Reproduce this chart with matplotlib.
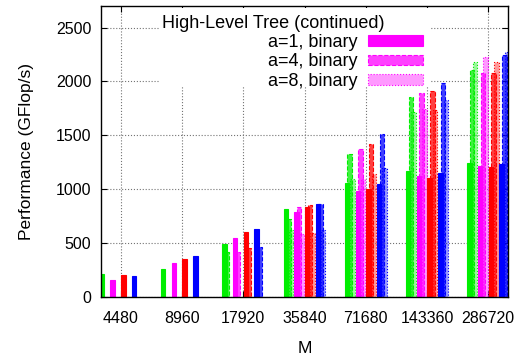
import numpy as np
import matplotlib
matplotlib.use("Agg")
import matplotlib.pyplot as plt
from matplotlib.patches import Patch, Rectangle

plt.rcParams['font.family'] = ['Liberation Sans', 'DejaVu Sans']
plt.rcParams['font.size'] = 11.5

nan = np.nan
sizes = ["4480", "8960", "17920", "35840", "71680", "143360", "286720"]
a_labels = ["a=1, binary", "a=4, binary", "a=8, binary"]

# performance (GFlop/s) per colour series, rows are a=1, a=4, a=8
green = [[217, 262, 492, 814, 1062, 1172, 1245],
         [nan, nan, 421, 722, 1331, 1853, 2110],
         [nan, nan, nan, 626, 1099, 1715, 2181]]
magenta = [[161, 319, 543, 790, 984, 1121, 1213],
           [nan, nan, 422, 837, 1370, 1895, 2079],
           [nan, nan, nan, 585, 1099, 1745, 2227]]
red = [[201, 356, 607, 832, 1000, 1100, 1206],
       [nan, nan, 452, 858, 1423, 1910, 2075],
       [nan, nan, nan, 598, 1137, 1733, 2181]]
blue = [[199, 377, 628, 866, 1046, 1155, 1231],
        [nan, nan, 464, 865, 1508, 1988, 2243],
        [nan, nan, nan, 617, 1199, 1825, 2271]]

series = [(green, "#00ee00"), (magenta, "#ff00ff"), (red, "#ff0000"), (blue, "#0000ff")]
alphas = [1.0, 0.75, 0.4]
styles = ["-", "--", ":"]

fig = plt.figure(figsize=(5.17, 3.61), dpi=100)
ax = fig.add_axes([0.1954, 0.1773, 0.7872, 0.8061])

x = np.arange(len(sizes))
width = 0.072
sub_off = 0.044
col_off = 0.175

for i, (vals, col) in enumerate(series):
    centre = (i - 1.5) * col_off
    for j in range(3):
        pos = x + centre + (j - 1) * sub_off
        ax.bar(pos, vals[j], width, color=matplotlib.colors.to_rgba(col, alphas[j]),
               edgecolor=col, linewidth=0.8, linestyle=styles[j], zorder=2)

ax.set_xlim(-0.322, len(sizes) - 1 + 0.322)
ax.set_ylim(0, 2700)
ax.set_xticks(x)
ax.set_xticklabels(sizes)
ax.set_yticks(np.arange(0, 2501, 500))
ax.tick_params(axis='x', direction='in', top=True, length=4, pad=10)
ax.tick_params(axis='y', direction='in', right=True, length=4, pad=7)
ax.grid(True, linestyle=':', color='0.45', linewidth=0.8)
ax.set_axisbelow(True)
for s in ax.spines.values():
    s.set_linewidth(1.0)

ax.set_xlabel("M", fontsize=12.5, labelpad=11)
ax.set_ylabel("Performance (GFlop/s)", fontsize=12.5, labelpad=16)

# opaque key area
ax.add_patch(Rectangle((0.145, 0.722), 0.666, 0.27, transform=ax.transAxes,
                       facecolor='white', edgecolor='none', zorder=1))
ax.text(0.149, 0.94, "High-Level Tree (continued)", transform=ax.transAxes,
        ha='left', va='center', fontsize=13, zorder=3)
handles = [Patch(facecolor=matplotlib.colors.to_rgba("#ff00ff", alphas[j]),
                 edgecolor="#ff00ff", linestyle=styles[j], linewidth=0.8)
           for j in range(3)]
ax.legend(handles, a_labels, loc='upper right', bbox_to_anchor=(0.791, 0.903),
          frameon=False, markerfirst=False, handlelength=3.05, handleheight=0.55,
          handletextpad=0.6, labelspacing=0.12, borderpad=0, borderaxespad=0,
          fontsize=13)

fig.savefig("out.png", dpi=100)
